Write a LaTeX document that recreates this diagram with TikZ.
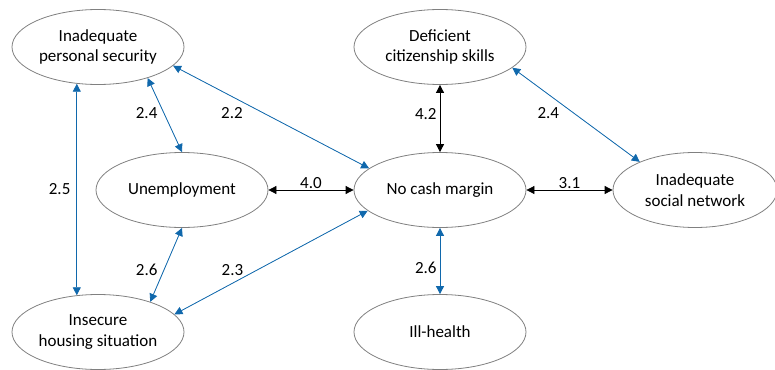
\documentclass[tikz,border=0pt]{standalone}
\usepackage{fontspec}
\setmainfont{Carlito}
\usepackage{tikz}
\usetikzlibrary{shapes.geometric,arrows.meta}

\definecolor{ecblue}{RGB}{16,104,172}

\begin{document}
\begin{tikzpicture}[
  x=1pt, y=1pt,
  every node/.style={font=\fontsize{17}{20.5}\selectfont},
  factor/.style={ellipse, draw=black!50, line width=0.8pt, align=center,
    inner xsep=-3pt, inner ysep=0pt, minimum width=172pt, minimum height=75pt},
  lab/.style={inner sep=1pt},
  lnk/.style={{Triangle[length=8pt,width=8pt]}-{Triangle[length=8pt,width=8pt]}, line width=0.8pt},
  blink/.style={lnk, draw=ecblue, fill=ecblue},
  klink/.style={lnk, draw=black, fill=black}
]
\useasboundingbox (0,0) rectangle (775,-369);

\node[factor] (secur) at (98,-47) {Inadequate\\personal security};
\node[factor] (unemp) at (182,-190) {Unemployment};
\node[factor] (hous) at (98,-332) {Insecure\\housing situation};
\node[factor] (skills) at (440,-47) {Deficient\\citizenship skills};
\node[factor] (cash) at (440,-190) {No cash margin};
\node[factor] (ill) at (440,-332) {Ill-health};
\node[factor, minimum width=164pt] (social) at (695,-190) {Inadequate\\social network};

\draw[blink] (secur.240) -- node[lab, pos=0.5, left=5pt]{2.5} (hous.120);
\draw[blink] (secur.-32) -- node[lab, pos=0.47, left=5pt]{2.4} (unemp.north);
\draw[blink] (secur.-14) -- node[lab, pos=0.3, below=10pt]{2.2} (cash.163);
\draw[klink] (unemp.east) -- node[lab, above]{4.0} (cash.west);
\draw[blink] (hous.30) -- node[lab, pos=0.43, left=5pt]{2.6} (unemp.south);
\draw[blink] (hous.13) -- node[lab, pos=0.3, above=6pt]{2.3} (cash.196);
\draw[klink] (skills.south) -- node[lab, pos=0.43, left=2pt]{4.2} (cash.north);
\draw[blink] (skills.-16) -- node[lab, pos=0.48, left=13pt]{2.4} (social.153);
\draw[klink] (cash.east) -- node[lab, above]{3.1} (social.west);
\draw[blink] (cash.south) -- node[lab, pos=0.61, left=2pt]{2.6} (ill.north);
\end{tikzpicture}
\end{document}
